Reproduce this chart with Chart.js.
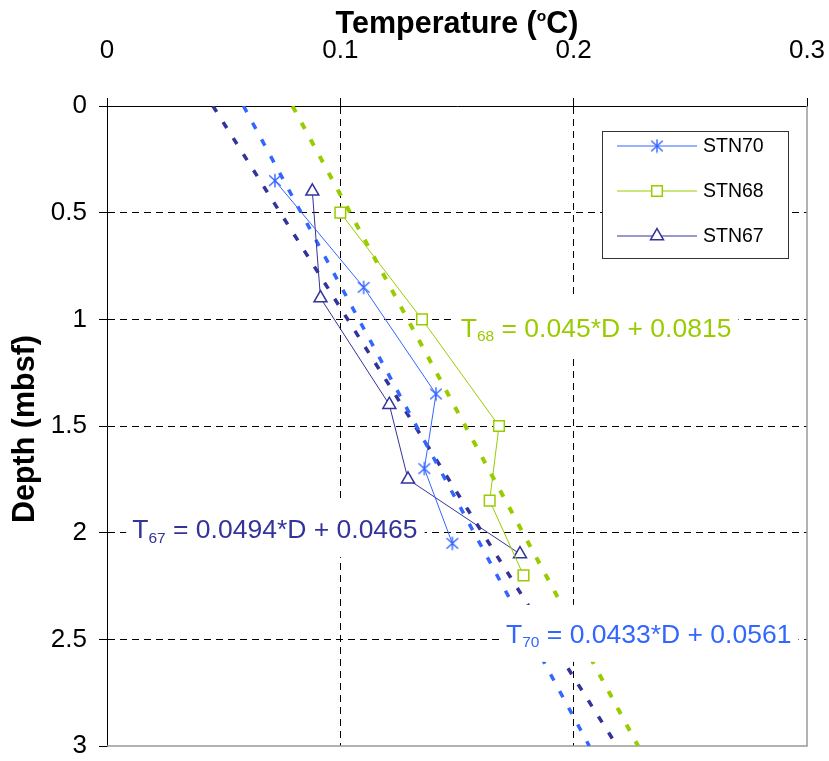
<!DOCTYPE html>
<html lang="en">
<head>
<meta charset="UTF-8">
<title>Temperature vs Depth</title>
<script src="https://cdn.jsdelivr.net/npm/chart.js"></script>
<style>
    body { margin: 0; background: #fff; }
    #wrap { width: 829px; height: 761px; }
</style>
</head>
<body>
<div id="wrap"><canvas id="tempChart" width="829" height="761"></canvas></div>
<script>
    // station profiles (depth in mbsf, temperature in degC)
    const depth70 = [0.35, 0.85, 1.35, 1.7, 2.05];
    const temp70  = [0.072, 0.110, 0.141, 0.136, 0.148];
    const depth68 = [0.5, 1.0, 1.5, 1.85, 2.2];
    const temp68  = [0.100, 0.135, 0.168, 0.164, 0.1785];
    const depth67 = [0.4, 0.9, 1.4, 1.75, 2.1];
    const temp67  = [0.088, 0.0915, 0.121, 0.129, 0.177];

    // dotted trend lines, read at the top and bottom of the plot
    const trendDepth = [0, 3];
    const trend70 = [0.0585, 0.2067];
    const trend68 = [0.0795, 0.2276];
    const trend67 = [0.0454, 0.2186];

    const stations = ['STN70', 'STN68', 'STN67'];
    const eqSub  = ['70', '68', '67'];
    const eqText = [' = 0.0433*D + 0.0561', ' = 0.045*D + 0.0815', ' = 0.0494*D + 0.0465'];

    const xTicks = [0, 0.1, 0.2, 0.3];
    const yTicks = [0, 0.5, 1, 1.5, 2, 2.5, 3];

    const BLUE = '#3366ff', GREEN = '#99cc00', NAVY = '#333399';
    const FONT = "'Liberation Sans', Arial, sans-serif";
    Chart.defaults.font.family = FONT;

    // where each equation sits (temperature of text start, depth of text middle)
    const eqPlace = [
        { t: 0.171, d: 2.472, color: BLUE },
        { t: 0.1516, d: 1.036, color: GREEN },
        { t: 0.0108, d: 1.981, color: NAVY }
    ];

    function asterisk(color) {
        const c = document.createElement('canvas');
        c.width = 14; c.height = 15;
        const g = c.getContext('2d');
        g.strokeStyle = color;
        g.lineWidth = 1.4;
        g.beginPath();
        g.moveTo(7, 0.8); g.lineTo(7, 14.2);
        g.moveTo(1.2, 2.2); g.lineTo(12.8, 12.8);
        g.moveTo(12.8, 2.2); g.lineTo(1.2, 12.8);
        g.stroke();
        return c;
    }

    const pts = (xs, ys) => xs.map((x, i) => ({ x: x, y: ys[i] }));

    function profile(label, temps, depths, color, style, radius) {
        return {
            label: label,
            data: pts(temps, depths),
            showLine: true,
            borderColor: color,
            borderWidth: 1,
            pointStyle: style,
            pointRadius: radius,
            pointBorderColor: color,
            pointBackgroundColor: '#fff',
            pointBorderWidth: 1.5
        };
    }

    function trend(temps, color, width) {
        return {
            label: '',
            data: pts(temps, trendDepth),
            showLine: true,
            borderColor: color,
            borderWidth: width,
            borderDash: [7, 12],
            borderCapStyle: 'butt',
            pointRadius: 0
        };
    }

    const edgeColor = last => c => (c.tick && (c.tick.value === 0 || c.tick.value === last)) ? 'rgba(0,0,0,0)' : '#000';

    // keep the plot area fixed: no extra room for overhanging tick labels
    function pin(s, size) {
        if (s.isHorizontal()) s.height = size; else s.width = size;
        s.paddingLeft = s.paddingRight = s.paddingTop = s.paddingBottom = 0;
    }

    // gray frame on the right and bottom of the plot
    const frame = {
        id: 'frame',
        beforeDatasetsDraw(chart) {
            const { ctx, chartArea: a } = chart;
            ctx.save();
            ctx.strokeStyle = '#999';
            ctx.lineWidth = 1.5;
            ctx.beginPath();
            ctx.moveTo(a.right, a.top);
            ctx.lineTo(a.right, a.bottom);
            ctx.lineTo(a.left, a.bottom);
            ctx.stroke();
            ctx.restore();
        }
    };

    // equation labels with white boxes, and the boxed legend
    const notes = {
        id: 'notes',
        afterDatasetsDraw(chart) {
            const ctx = chart.ctx;
            const xs = chart.scales.x, ys = chart.scales.y;
            ctx.save();
            eqPlace.forEach((p, i) => {
                const x0 = xs.getPixelForValue(p.t);
                const yc = ys.getPixelForValue(p.d);
                const big = '26.5px ' + FONT, small = '15.5px ' + FONT;
                ctx.font = big;
                const wT = ctx.measureText('T').width;
                const wRest = ctx.measureText(eqText[i]).width;
                ctx.font = small;
                const wSub = ctx.measureText(eqSub[i]).width;
                const w = wT + wSub + wRest;
                ctx.fillStyle = '#fff';
                ctx.fillRect(x0 - 6, yc - 28.5, w + 13, 57);
                const base = yc + 9.5;
                ctx.fillStyle = p.color;
                ctx.textBaseline = 'alphabetic';
                ctx.textAlign = 'left';
                ctx.font = big;
                ctx.fillText('T', x0, base);
                ctx.font = small;
                ctx.fillText(eqSub[i], x0 + wT, base + 4.5);
                ctx.font = big;
                ctx.fillText(eqText[i], x0 + wT + wSub, base);
            });

            // legend
            const bx = 602, by = 131, bw = 186, bh = 127;
            ctx.fillStyle = '#fff';
            ctx.fillRect(bx, by, bw, bh);
            ctx.strokeStyle = '#333';
            ctx.lineWidth = 1;
            ctx.strokeRect(bx + 0.5, by + 0.5, bw, bh);
            chart.data.datasets.slice(0, 3).forEach((ds, i) => {
                const y = 146 + i * 45;
                ctx.strokeStyle = ds.borderColor;
                ctx.lineWidth = 1;
                ctx.beginPath();
                ctx.moveTo(617, y);
                ctx.lineTo(697, y);
                ctx.stroke();
                ctx.fillStyle = '#fff';
                ctx.lineWidth = ds.pointBorderWidth;
                Chart.helpers.drawPoint(ctx, { pointStyle: ds.pointStyle, radius: ds.pointRadius, borderWidth: ds.pointBorderWidth, rotation: 0 }, 657, y);
                ctx.fillStyle = '#000';
                ctx.font = '19.5px ' + FONT;
                ctx.textBaseline = 'middle';
                ctx.fillText(ds.label, 703, y + 1);
            });
            ctx.restore();
        }
    };

    // axis titles (x title has a raised "o")
    const titles = {
        id: 'titles',
        afterDraw(chart) {
            const { ctx, chartArea: a } = chart;
            ctx.save();
            ctx.fillStyle = '#000';
            ctx.textBaseline = 'alphabetic';
            const big = 'bold 30.5px ' + FONT, sup = 'bold 15.5px ' + FONT;
            ctx.font = big;
            const w1 = ctx.measureText('Temperature (').width;
            const w3 = ctx.measureText('C)').width;
            ctx.font = sup;
            const w2 = ctx.measureText('o').width;
            let x = (a.left + a.right) / 2 - (w1 + w2 + w3) / 2;
            ctx.textAlign = 'left';
            ctx.font = big;
            ctx.fillText('Temperature (', x, 33);
            ctx.font = sup;
            ctx.fillText('o', x + w1, 21);
            ctx.font = big;
            ctx.fillText('C)', x + w1 + w2, 33);

            ctx.translate(34, (a.top + a.bottom) / 2 + 3);
            ctx.rotate(-Math.PI / 2);
            ctx.textAlign = 'center';
            ctx.fillText('Depth (mbsf)', 0, 0);
            ctx.restore();
        }
    };

    new Chart(document.getElementById('tempChart'), {
        type: 'scatter',
        data: {
            datasets: [
                profile(stations[0], temp70, depth70, BLUE, asterisk(BLUE), 7),
                profile(stations[1], temp68, depth68, GREEN, 'rect', 7.5),
                profile(stations[2], temp67, depth67, NAVY, 'triangle', 7.5),
                trend(trend70, BLUE, 3.5),
                trend(trend68, GREEN, 4),
                trend(trend67, NAVY, 3.5)
            ]
        },
        options: {
            responsive: false,
            animation: false,
            events: [],
            layout: { padding: { left: 0, right: 22, top: 0, bottom: 15 } },
            plugins: { legend: { display: false }, tooltip: { enabled: false } },
            scales: {
                x: {
                    type: 'linear',
                    position: 'top',
                    min: 0,
                    max: 0.3,
                    afterBuildTicks: s => { s.ticks = xTicks.map(v => ({ value: v })); },
                    afterFit: s => pin(s, 106),
                    ticks: { color: '#000', font: { size: 26 }, padding: 32, maxRotation: 0, autoSkip: false, callback: v => String(v) },
                    grid: { color: edgeColor(0.3), lineWidth: 1, tickLength: 8, tickColor: '#000', tickWidth: 1 },
                    border: { display: true, color: '#000', width: 1, dash: [7, 5] }
                },
                y: {
                    type: 'linear',
                    reverse: true,
                    min: 0,
                    max: 3,
                    afterBuildTicks: s => { s.ticks = yTicks.map(v => ({ value: v })); },
                    afterFit: s => pin(s, 107),
                    ticks: { color: '#000', font: { size: 26, lineHeight: 1 }, padding: 12, autoSkip: false, callback: v => String(v) },
                    grid: { color: edgeColor(3), lineWidth: 1, tickLength: 8, tickColor: '#000', tickWidth: 1 },
                    border: { display: true, color: '#000', width: 1, dash: [7, 5] }
                }
            }
        },
        plugins: [frame, notes, titles]
    });
</script>
</body>
</html>
